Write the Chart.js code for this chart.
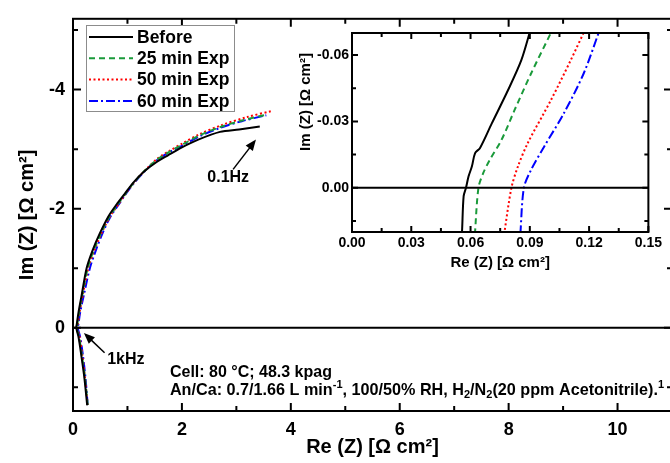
<!DOCTYPE html>
<html>
<head>
<meta charset="utf-8">
<script src="https://cdn.jsdelivr.net/npm/chart.js@4.4.1/dist/chart.umd.min.js"></script>
<style>
  html, body { margin: 0; padding: 0; background: #fff; overflow: hidden; }
  #wrap { position: relative; width: 680px; height: 463px; }
  #main { position: absolute; left: 0; top: 0; }
  #inset { position: absolute; left: 290px; top: 20px; }
</style>
</head>
<body>
<div id="wrap">
  <canvas id="main" width="680" height="463"></canvas>
  <canvas id="inset" width="375" height="255"></canvas>
</div>
<script>
// ---------------- data ----------------
var seriesNames = ['Before', '25 min Exp', '50 min Exp', '60 min Exp'];
var seriesColors = ['#000000', '#1a9a3a', '#ff0000', '#0000ff'];
var seriesDash = [[], [6, 4], [2, 2.5], [9, 3, 2, 3]];

// main Nyquist plot, Re / Im in ohm cm2
var before_re = [0.26, 0.21, 0.15, 0.10, 0.06, 0.07, 0.10, 0.16, 0.25, 0.36, 0.49, 0.65, 0.80, 0.95, 1.10, 1.30, 1.53, 1.75, 2.00, 2.30, 2.70, 3.05, 3.43];
var before_im = [1.30, 0.85, 0.45, 0.15, 0.00, -0.06, -0.25, -0.55, -1.00, -1.30, -1.58, -1.87, -2.07, -2.25, -2.43, -2.62, -2.78, -2.90, -3.03, -3.16, -3.29, -3.33, -3.38];
var exp25_re = [0.27, 0.22, 0.16, 0.11, 0.065, 0.08, 0.11, 0.17, 0.27, 0.38, 0.51, 0.67, 0.82, 0.97, 1.12, 1.32, 1.54, 1.76, 2.00, 2.30, 2.70, 3.10, 3.55];
var exp25_im = [1.30, 0.85, 0.45, 0.15, 0.00, -0.06, -0.25, -0.55, -1.00, -1.30, -1.58, -1.87, -2.07, -2.26, -2.44, -2.64, -2.82, -2.95, -3.07, -3.22, -3.37, -3.48, -3.58];
var exp50_re = [0.27, 0.22, 0.17, 0.12, 0.08, 0.09, 0.12, 0.18, 0.28, 0.39, 0.52, 0.68, 0.83, 0.98, 1.13, 1.33, 1.55, 1.77, 2.02, 2.32, 2.72, 3.20, 3.65];
var exp50_im = [1.30, 0.85, 0.45, 0.15, 0.00, -0.06, -0.25, -0.55, -1.00, -1.30, -1.58, -1.87, -2.07, -2.27, -2.45, -2.65, -2.84, -2.97, -3.10, -3.25, -3.40, -3.54, -3.64];
var exp60_re = [0.27, 0.23, 0.18, 0.13, 0.087, 0.10, 0.13, 0.20, 0.31, 0.42, 0.54, 0.69, 0.84, 0.98, 1.13, 1.33, 1.55, 1.77, 2.01, 2.31, 2.71, 3.10, 3.55];
var exp60_im = [1.30, 0.85, 0.45, 0.15, 0.00, -0.06, -0.25, -0.55, -1.00, -1.30, -1.58, -1.87, -2.07, -2.26, -2.44, -2.64, -2.82, -2.95, -3.06, -3.21, -3.36, -3.47, -3.57];

// inset, zoom near the high frequency intercept
var in_before_re = [0.0555, 0.0557, 0.0565, 0.0577, 0.0590, 0.0607, 0.0623, 0.0648, 0.0707, 0.0790, 0.0857, 0.0902];
var in_before_im = [0.0210, 0.0195, 0.0038, 0.0000, -0.0052, -0.0097, -0.0157, -0.0180, -0.0290, -0.0442, -0.0577, -0.0710];
var in_exp25_re = [0.0622, 0.0640, 0.0665, 0.0698, 0.0757, 0.0823, 0.0907, 0.1012];
var in_exp25_im = [0.0210, 0.0000, -0.0068, -0.0127, -0.0217, -0.0352, -0.0518, -0.0710];
var in_exp50_re = [0.0770, 0.0807, 0.0840, 0.0890, 0.1007, 0.1107, 0.1177];
var in_exp50_im = [0.0210, 0.0000, -0.0097, -0.0203, -0.0397, -0.0577, -0.0710];
var in_exp60_re = [0.0852, 0.0870, 0.0907, 0.0973, 0.1073, 0.1173, 0.1252];
var in_exp60_im = [0.0210, 0.0000, -0.0082, -0.0187, -0.0338, -0.0518, -0.0710];

// ticks
var mainXTicks = [0, 2, 4, 6, 8, 10];
var mainXMinor = [1, 3, 5, 7, 9];
var mainYTicks = [-4, -2, 0];
var mainYMinor = [-5, -3, -1, 1];
var insetXTicks = [0, 0.03, 0.06, 0.09, 0.12, 0.15];
var insetXMinor = [0.015, 0.045, 0.075, 0.105, 0.135];
var insetYTicks = [-0.06, -0.03, 0];
var insetYMinor = [-0.045, -0.015, 0.015];

var FONT = 'Arial, "Liberation Sans", sans-serif';

function toPoints(re, im) {
  var pts = [];
  for (var i = 0; i < re.length; i++) pts.push({ x: re[i], y: im[i] });
  return pts;
}

function makeSets(list) {
  var sets = [];
  for (var i = 0; i < list.length; i++) {
    sets.push({
      label: seriesNames[i],
      data: list[i],
      borderColor: seriesColors[i],
      borderDash: seriesDash[i],
      borderWidth: 2,
      pointRadius: 0,
      fill: false,
      tension: 0.3
    });
  }
  return sets;
}

// frame with inward ticks on all four sides
function drawFrame(chart, o) {
  var ctx = chart.ctx, a = chart.chartArea;
  var xs = chart.scales.x, ys = chart.scales.y;
  ctx.save();
  ctx.strokeStyle = '#000';
  ctx.lineWidth = 2;
  ctx.beginPath();
  function tx(v, len) {
    var p = xs.getPixelForValue(v);
    ctx.moveTo(p, a.bottom); ctx.lineTo(p, a.bottom - len);
    ctx.moveTo(p, a.top); ctx.lineTo(p, a.top + len);
  }
  function ty(v, len) {
    var p = ys.getPixelForValue(v);
    ctx.moveTo(a.left, p); ctx.lineTo(a.left + len, p);
    ctx.moveTo(a.right, p); ctx.lineTo(a.right - len, p);
  }
  o.xMajor.forEach(function (v) { tx(v, o.major); });
  o.xMinor.forEach(function (v) { tx(v, o.minor); });
  o.yMajor.forEach(function (v) { ty(v, o.major); });
  o.yMinor.forEach(function (v) { ty(v, o.minor); });
  ctx.stroke();
  // zero line
  var z = ys.getPixelForValue(0);
  ctx.beginPath();
  ctx.moveTo(a.left, z); ctx.lineTo(a.right, z);
  ctx.stroke();
  ctx.strokeRect(a.left, a.top, a.right - a.left, a.bottom - a.top);
  ctx.restore();
}

function arrow(ctx, x1, y1, x2, y2) {
  var ang = Math.atan2(y2 - y1, x2 - x1);
  var hl = 11, hw = 4.5;
  ctx.beginPath();
  ctx.moveTo(x1, y1);
  ctx.lineTo(x2 - Math.cos(ang) * hl * 0.8, y2 - Math.sin(ang) * hl * 0.8);
  ctx.stroke();
  ctx.beginPath();
  ctx.moveTo(x2, y2);
  ctx.lineTo(x2 - Math.cos(ang) * hl + Math.sin(ang) * hw, y2 - Math.sin(ang) * hl - Math.cos(ang) * hw);
  ctx.lineTo(x2 - Math.cos(ang) * hl - Math.sin(ang) * hw, y2 - Math.sin(ang) * hl + Math.cos(ang) * hw);
  ctx.closePath();
  ctx.fill();
}

// text with sub and superscripts
function richText(ctx, parts, x, y, size) {
  var cx = x;
  parts.forEach(function (p) {
    var s = p.sub || p.sup ? size * 0.68 : size;
    ctx.font = 'bold ' + s + 'px ' + FONT;
    var dy = p.sup ? -size * 0.38 : (p.sub ? size * 0.25 : 0);
    ctx.fillText(p.t, cx, y + dy);
    cx += ctx.measureText(p.t).width;
  });
}

var mainDecor = {
  id: 'mainDecor',
  afterDraw: function (chart) {
    var ctx = chart.ctx;
    var xs = chart.scales.x, ys = chart.scales.y;
    drawFrame(chart, { xMajor: mainXTicks, xMinor: mainXMinor, yMajor: mainYTicks, yMinor: mainYMinor, major: 8, minor: 5 });

    ctx.save();
    // legend box
    ctx.fillStyle = '#fff';
    ctx.fillRect(86, 25, 148, 86);
    ctx.strokeStyle = '#8c8c8c';
    ctx.lineWidth = 1;
    ctx.strokeRect(86.5, 25.5, 148, 86);
    chart.data.datasets.forEach(function (ds, i) {
      var yy = 37 + i * 21.3;
      ctx.strokeStyle = ds.borderColor;
      ctx.lineWidth = 2;
      ctx.setLineDash(ds.borderDash);
      ctx.beginPath();
      ctx.moveTo(89, yy); ctx.lineTo(133, yy);
      ctx.stroke();
      ctx.setLineDash([]);
      ctx.fillStyle = '#000';
      ctx.font = 'bold 17.5px ' + FONT;
      ctx.textBaseline = 'middle';
      ctx.fillText(ds.label, 137, yy + 1);
    });

    // frequency labels
    ctx.fillStyle = '#000';
    ctx.strokeStyle = '#000';
    ctx.lineWidth = 1.5;
    ctx.font = 'bold 16px ' + FONT;
    ctx.textAlign = 'center';
    ctx.fillText('0.1Hz', xs.getPixelForValue(2.85), ys.getPixelForValue(-2.52));
    arrow(ctx, xs.getPixelForValue(2.94), ys.getPixelForValue(-2.66), xs.getPixelForValue(3.36), ys.getPixelForValue(-3.16));
    ctx.fillText('1kHz', xs.getPixelForValue(0.97), ys.getPixelForValue(0.53));
    arrow(ctx, xs.getPixelForValue(0.58), ys.getPixelForValue(0.42), xs.getPixelForValue(0.20), ys.getPixelForValue(0.09));

    // test conditions
    ctx.textAlign = 'left';
    var tx = xs.getPixelForValue(1.78);
    richText(ctx, [{ t: 'Cell: 80 °C; 48.3 kpag' }], tx, ys.getPixelForValue(0.75), 16);
    richText(ctx, [
      { t: 'An/Ca: 0.7/1.66 L min' }, { t: '-1', sup: true },
      { t: ', 100/50% RH, H' }, { t: '2', sub: true },
      { t: '/N' }, { t: '2', sub: true },
      { t: '(20 ppm Acetonitrile).' }, { t: '1', sup: true }
    ], tx, ys.getPixelForValue(1.06), 16.2);
    ctx.restore();
  }
};

var insetDecor = {
  id: 'insetDecor',
  afterDraw: function (chart) {
    var ctx = chart.ctx;
    drawFrame(chart, { xMajor: insetXTicks, xMinor: insetXMinor, yMajor: insetYTicks, yMinor: insetYMinor, major: 6, minor: 4 });
    ctx.save();
    ctx.translate(16, 82);
    ctx.rotate(-Math.PI / 2);
    ctx.fillStyle = '#000';
    ctx.font = 'bold 15px ' + FONT;
    ctx.textAlign = 'center';
    ctx.textBaseline = 'middle';
    ctx.fillText('Im (Z) [Ω cm²]', 0, 0);
    ctx.restore();
  }
};

function setTicks(list) {
  return function (s) { s.ticks = list.map(function (v) { return { value: v }; }); };
}

new Chart(document.getElementById('main'), {
  type: 'line',
  data: {
    datasets: makeSets([
      toPoints(before_re, before_im), toPoints(exp25_re, exp25_im),
      toPoints(exp50_re, exp50_im), toPoints(exp60_re, exp60_im)
    ])
  },
  options: {
    responsive: false,
    animation: false,
    layout: { padding: { left: 0, top: 14, right: 8, bottom: 0 } },
    plugins: { legend: { display: false }, tooltip: { enabled: false } },
    scales: {
      x: {
        type: 'linear', min: 0, max: 11,
        grid: { display: false, drawTicks: false }, border: { display: false },
        afterBuildTicks: setTicks(mainXTicks),
        afterFit: function (s) { s.height = 52; },
        ticks: { padding: 8, color: '#000', font: { family: FONT, size: 18, weight: 'bold' } },
        title: { display: true, text: 'Re (Z) [Ω cm²]', color: '#000', padding: { top: 0, bottom: 4 },
                 font: { family: FONT, size: 20, weight: 'bold' } }
      },
      y: {
        type: 'linear', min: -5.19, max: 1.4, reverse: true,
        grid: { display: false, drawTicks: false }, border: { display: false },
        afterBuildTicks: setTicks(mainYTicks),
        afterFit: function (s) { s.width = 73; },
        ticks: { padding: 8, color: '#000', font: { family: FONT, size: 18, weight: 'bold' } },
        title: { display: true, text: 'Im (Z) [Ω cm²]', color: '#000', padding: { top: 15, bottom: 0 },
                 font: { family: FONT, size: 20, weight: 'bold' } }
      }
    }
  },
  plugins: [mainDecor]
});

new Chart(document.getElementById('inset'), {
  type: 'line',
  data: {
    datasets: makeSets([
      toPoints(in_before_re, in_before_im), toPoints(in_exp25_re, in_exp25_im),
      toPoints(in_exp50_re, in_exp50_im), toPoints(in_exp60_re, in_exp60_im)
    ])
  },
  options: {
    responsive: false,
    animation: false,
    layout: { padding: { left: 0, top: 13, right: 13, bottom: 0 } },
    plugins: { legend: { display: false }, tooltip: { enabled: false } },
    scales: {
      x: {
        type: 'linear', min: 0, max: 0.15,
        grid: { display: false, drawTicks: false }, border: { display: false },
        afterBuildTicks: setTicks(insetXTicks),
        afterFit: function (s) { s.height = 43; },
        ticks: { padding: 3, color: '#000', font: { family: FONT, size: 14, weight: 'bold' },
                 callback: function (v) { return v.toFixed(2); } },
        title: { display: true, text: 'Re (Z) [Ω cm²]', color: '#000', padding: { top: 0, bottom: 3 },
                 font: { family: FONT, size: 15, weight: 'bold' } }
      },
      y: {
        type: 'linear', min: -0.07, max: 0.02, reverse: true,
        grid: { display: false, drawTicks: false }, border: { display: false },
        afterBuildTicks: setTicks(insetYTicks),
        afterFit: function (s) { s.width = 62; },
        ticks: { padding: 3, color: '#000', font: { family: FONT, size: 14, weight: 'bold' },
                 callback: function (v) { return v.toFixed(2); } }
      }
    }
  },
  plugins: [insetDecor]
});
</script>
</body>
</html>
